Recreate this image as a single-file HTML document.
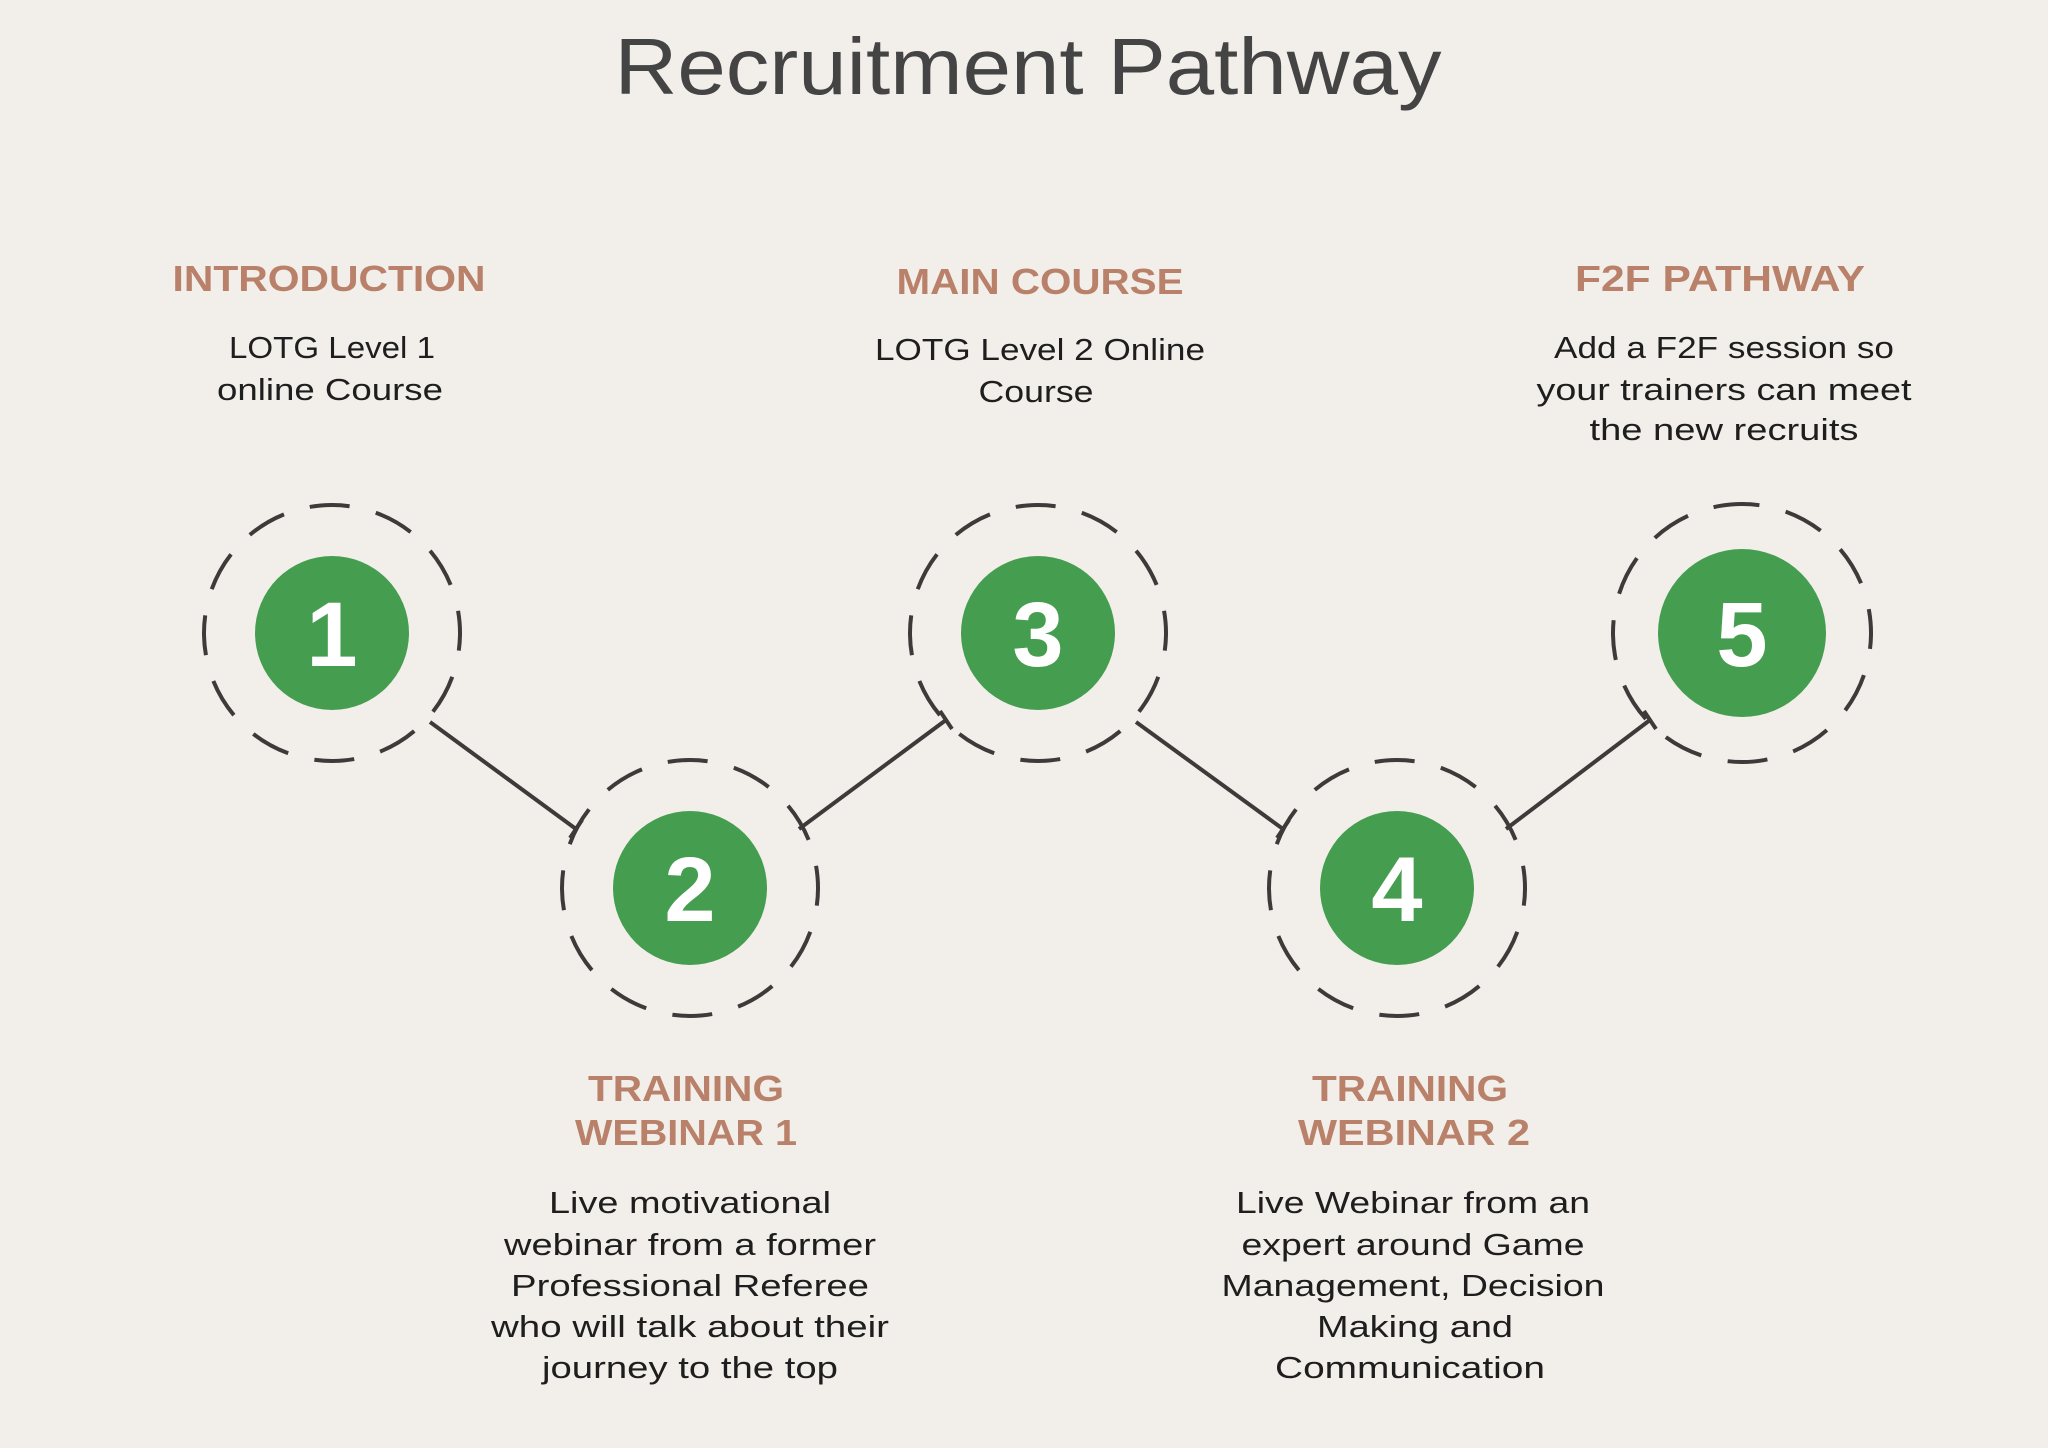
<!DOCTYPE html>
<html><head><meta charset="utf-8"><style>
html,body{margin:0;padding:0;background:#f2eeea;}
svg{display:block}
.h{font-family:"Liberation Sans",sans-serif;font-weight:bold;fill:#b9806a;font-size:36px;text-anchor:middle}
.b{font-family:"Liberation Sans",sans-serif;fill:#1e1e1e;font-size:31px;text-anchor:middle}
.n{font-family:"Liberation Sans",sans-serif;font-weight:bold;fill:#fff;font-size:92px;text-anchor:middle}
.ring{fill:none;stroke:#3d3a3a;stroke-width:4;stroke-dasharray:40 27}
.ln{stroke:#3d3a3a;stroke-width:4;fill:none}
</style></head><body>
<svg width="2048" height="1448" viewBox="0 0 2048 1448" xmlns="http://www.w3.org/2000/svg">
<rect width="2048" height="1448" fill="#f2eeea"/>
<text x="1028" y="94" font-family="Liberation Sans, sans-serif" font-size="80" fill="#444" text-anchor="middle" textLength="827" lengthAdjust="spacingAndGlyphs">Recruitment Pathway</text>

<g class="ln">
<line x1="430" y1="722" x2="576" y2="829"/><line x1="570" y1="838" x2="582" y2="820"/>
<line x1="799" y1="829" x2="946" y2="720"/><line x1="940" y1="711" x2="952" y2="729"/>
<line x1="1136" y1="722" x2="1283" y2="829"/><line x1="1277" y1="838" x2="1289" y2="820"/>
<line x1="1506" y1="829" x2="1650" y2="720"/><line x1="1644" y1="711" x2="1656" y2="729"/>
</g>

<g>
<circle class="ring" cx="332" cy="633" r="128" transform="rotate(-100 332 633)"/>
<circle class="ring" cx="690" cy="888" r="128" transform="rotate(-100 690 888)"/>
<circle class="ring" cx="1038" cy="633" r="128" transform="rotate(-100 1038 633)"/>
<circle class="ring" cx="1397" cy="888" r="128" transform="rotate(-100 1397 888)"/>
<circle class="ring" cx="1742" cy="633" r="129" transform="rotate(-100 1742 633)"/>
</g>
<g fill="#459e4f">
<circle cx="332" cy="633" r="77"/>
<circle cx="690" cy="888" r="77"/>
<circle cx="1038" cy="633" r="77"/>
<circle cx="1397" cy="888" r="77"/>
<circle cx="1742" cy="633" r="84"/>
</g>
<text class="n" x="332" y="666">1</text>
<text class="n" x="690" y="921">2</text>
<text class="n" x="1038" y="666">3</text>
<text class="n" x="1397" y="921">4</text>
<text class="n" x="1742" y="666">5</text>

<text class="h" x="329" y="291" textLength="313" lengthAdjust="spacingAndGlyphs">INTRODUCTION</text>
<text class="b" x="332" y="358" textLength="206" lengthAdjust="spacingAndGlyphs">LOTG Level 1</text>
<text class="b" x="330" y="400" textLength="226" lengthAdjust="spacingAndGlyphs">online Course</text>

<text class="h" x="1040" y="294" textLength="287" lengthAdjust="spacingAndGlyphs">MAIN COURSE</text>
<text class="b" x="1040" y="360" textLength="330" lengthAdjust="spacingAndGlyphs">LOTG Level 2 Online</text>
<text class="b" x="1036" y="402" textLength="115" lengthAdjust="spacingAndGlyphs">Course</text>

<text class="h" x="1720" y="291" textLength="290" lengthAdjust="spacingAndGlyphs">F2F PATHWAY</text>
<text class="b" x="1724" y="358" textLength="340" lengthAdjust="spacingAndGlyphs">Add a F2F session so</text>
<text class="b" x="1724" y="400" textLength="375" lengthAdjust="spacingAndGlyphs">your trainers can meet</text>
<text class="b" x="1724" y="440" textLength="269" lengthAdjust="spacingAndGlyphs">the new recruits</text>

<text class="h" x="686" y="1101" textLength="196" lengthAdjust="spacingAndGlyphs">TRAINING</text>
<text class="h" x="686" y="1145" textLength="222" lengthAdjust="spacingAndGlyphs">WEBINAR 1</text>
<text class="b" x="690" y="1213" textLength="282" lengthAdjust="spacingAndGlyphs">Live motivational</text>
<text class="b" x="690" y="1255" textLength="372" lengthAdjust="spacingAndGlyphs">webinar from a former</text>
<text class="b" x="690" y="1296" textLength="358" lengthAdjust="spacingAndGlyphs">Professional Referee</text>
<text class="b" x="690" y="1337" textLength="398" lengthAdjust="spacingAndGlyphs">who will talk about their</text>
<text class="b" x="690" y="1378" textLength="296" lengthAdjust="spacingAndGlyphs">journey to the top</text>

<text class="h" x="1410" y="1101" textLength="196" lengthAdjust="spacingAndGlyphs">TRAINING</text>
<text class="h" x="1414" y="1145" textLength="232" lengthAdjust="spacingAndGlyphs">WEBINAR 2</text>
<text class="b" x="1413" y="1213" textLength="354" lengthAdjust="spacingAndGlyphs">Live Webinar from an</text>
<text class="b" x="1413" y="1255" textLength="343" lengthAdjust="spacingAndGlyphs">expert around Game</text>
<text class="b" x="1413" y="1296" textLength="383" lengthAdjust="spacingAndGlyphs">Management, Decision</text>
<text class="b" x="1415" y="1337" textLength="196" lengthAdjust="spacingAndGlyphs">Making and</text>
<text class="b" x="1410" y="1378" textLength="270" lengthAdjust="spacingAndGlyphs">Communication</text>
</svg>
</body></html>
